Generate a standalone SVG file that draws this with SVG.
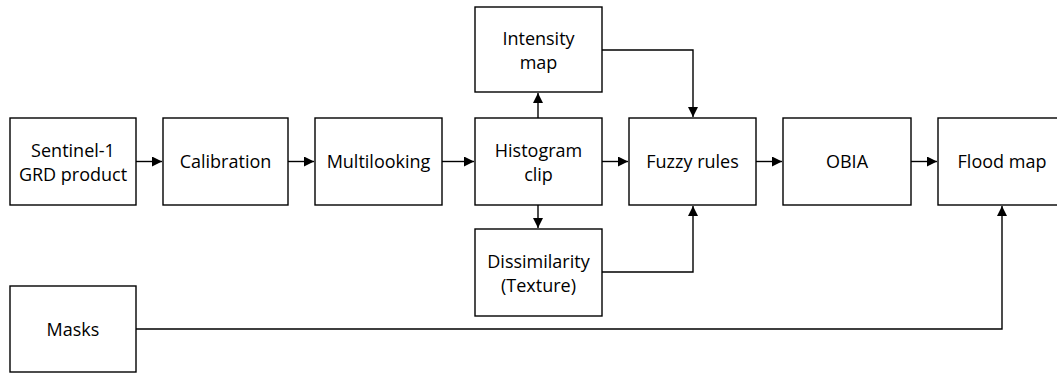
<svg xmlns="http://www.w3.org/2000/svg" width="1057" height="376" viewBox="0 0 1057 376">
<defs>
<style>
.box{fill:#fff;stroke:#000;stroke-width:1.4}
.lbl{font-family:"Open Sans","Noto Sans","Liberation Sans",sans-serif;font-size:18px;fill:#000;text-anchor:middle}
.con{fill:none;stroke:#000;stroke-width:1.4}
</style>
<marker id="ah" viewBox="0 0 10 10" refX="10" refY="5" markerWidth="10" markerHeight="10" markerUnits="userSpaceOnUse" orient="auto">
<path d="M0,0 L10,5 L0,10 Z" fill="#000"/>
</marker>
</defs>
<rect width="1057" height="376" fill="#fff"/>
<g id="connectors">
<path class="con" d="M136,161.5 H162" marker-end="url(#ah)"/>
<path class="con" d="M288,161.5 H314" marker-end="url(#ah)"/>
<path class="con" d="M442,161.5 H474" marker-end="url(#ah)"/>
<path class="con" d="M602,161.5 H628" marker-end="url(#ah)"/>
<path class="con" d="M756,161.5 H782" marker-end="url(#ah)"/>
<path class="con" d="M911,161.5 H937" marker-end="url(#ah)"/>
<path class="con" d="M538,118 V93" marker-end="url(#ah)"/>
<path class="con" d="M538,205 V228" marker-end="url(#ah)"/>
<path class="con" d="M602,50 H693 V117" marker-end="url(#ah)"/>
<path class="con" d="M602,272 H693 V206" marker-end="url(#ah)"/>
<path class="con" d="M136,329 H1002 V206" marker-end="url(#ah)"/>
</g>
<g id="sentinel">
<rect class="box" x="10" y="118" width="126" height="87"/>
<text class="lbl" x="73" y="157">Sentinel-1</text>
<text class="lbl" x="73" y="181">GRD product</text>
</g>
<g id="calibration">
<rect class="box" x="163" y="118" width="125" height="87"/>
<text class="lbl" x="225.5" y="168">Calibration</text>
</g>
<g id="multilooking">
<rect class="box" x="315" y="118" width="127" height="87"/>
<text class="lbl" x="378.5" y="168">Multilooking</text>
</g>
<g id="histogram">
<rect class="box" x="475" y="118" width="127" height="87"/>
<text class="lbl" x="538.5" y="157">Histogram</text>
<text class="lbl" x="538.5" y="181">clip</text>
</g>
<g id="intensity">
<rect class="box" x="475" y="7" width="127" height="85"/>
<text class="lbl" x="538.5" y="45">Intensity</text>
<text class="lbl" x="538.5" y="69">map</text>
</g>
<g id="dissimilarity">
<rect class="box" x="475" y="229" width="127" height="87"/>
<text class="lbl" x="538.5" y="268">Dissimilarity</text>
<text class="lbl" x="538.5" y="292">(Texture)</text>
</g>
<g id="fuzzy">
<rect class="box" x="629" y="118" width="127" height="87"/>
<text class="lbl" x="692.5" y="168">Fuzzy rules</text>
</g>
<g id="obia">
<rect class="box" x="783" y="118" width="128" height="87"/>
<text class="lbl" x="847" y="168">OBIA</text>
</g>
<g id="floodmap">
<rect class="box" x="938" y="118" width="127" height="87"/>
<text class="lbl" x="1002" y="168">Flood map</text>
</g>
<g id="masks">
<rect class="box" x="10" y="286" width="126" height="86"/>
<text class="lbl" x="73" y="336">Masks</text>
</g>
</svg>
